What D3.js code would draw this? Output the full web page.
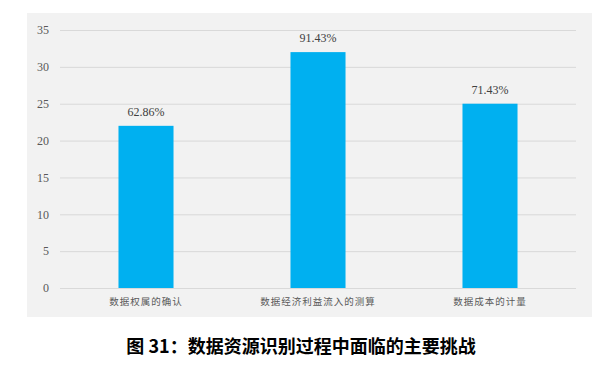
<!DOCTYPE html>
<html>
<head>
<meta charset="utf-8">
<script src="https://cdn.jsdelivr.net/npm/d3@7"></script>
<style>
  body { margin: 0; background: #fff; }
  svg { display: block; }
</style>
</head>
<body>
<svg id="chart" width="610" height="375"></svg>
<script>
// data
const categories = ["数据权属的确认", "数据经济利益流入的测算", "数据成本的计量"];
const counts = [22, 32, 25];
const shareLabels = ["62.86%", "91.43%", "71.43%"];
const yTicks = [0, 5, 10, 15, 20, 25, 30, 35];
const title = "图 31：数据资源识别过程中面临的主要挑战";

const width = 610, height = 375;
const margin = {top: 30, right: 34, bottom: 87, left: 60};

const svg = d3.select("#chart");

// gray panel behind the chart
svg.append("rect")
    .attr("x", 27)
    .attr("y", 13)
    .attr("width", 565)
    .attr("height", 304)
    .attr("fill", "#f2f2f2");

const xScale = d3.scaleBand()
    .domain(categories)
    .range([margin.left, width - margin.right])
    .paddingInner(0.68)
    .paddingOuter(0.34);

const yScale = d3.scaleLinear()
    .domain([0, 35])
    .range([height - margin.bottom, margin.top]);

// grid lines
svg.append("g")
    .selectAll("line")
    .data(yTicks)
    .join("line")
    .attr("x1", margin.left)
    .attr("x2", width - margin.right)
    .attr("y1", d => yScale(d) + 0.5)
    .attr("y2", d => yScale(d) + 0.5)
    .attr("stroke", "#d9d9d9")
    .attr("stroke-width", 1);

// y axis
const yAxis = d3.axisLeft(yScale)
    .tickValues(yTicks)
    .tickSize(0)
    .tickPadding(11);

const gY = svg.append("g")
    .attr("transform", "translate(" + margin.left + ",0)")
    .call(yAxis);
gY.select(".domain").remove();
gY.selectAll("text")
    .attr("fill", "#595959")
    .style("font-family", "'Liberation Serif', 'DejaVu Serif', serif")
    .style("font-size", "12px");

// bars
svg.append("g")
    .selectAll("rect")
    .data(counts)
    .join("rect")
    .attr("x", (d, i) => xScale(categories[i]))
    .attr("y", d => yScale(d))
    .attr("width", xScale.bandwidth())
    .attr("height", d => yScale(0) - yScale(d))
    .attr("fill", "#00b0f0");

// value labels
svg.append("g")
    .selectAll("text")
    .data(counts)
    .join("text")
    .attr("x", (d, i) => xScale(categories[i]) + xScale.bandwidth() / 2)
    .attr("y", d => yScale(d) - 10)
    .attr("text-anchor", "middle")
    .attr("fill", "#404040")
    .style("font-family", "'Liberation Serif', 'DejaVu Serif', serif")
    .style("font-size", "12px")
    .text((d, i) => shareLabels[i]);

// x axis
const xAxis = d3.axisBottom(xScale)
    .tickSize(0)
    .tickPadding(10);

const gX = svg.append("g")
    .attr("transform", "translate(0," + yScale(0) + ")")
    .call(xAxis);
gX.select(".domain").remove();
gX.selectAll("text")
    .attr("fill", "#595959")
    .style("font-family", "'Noto Sans CJK SC', sans-serif")
    .style("font-size", "9.5px")
    .style("letter-spacing", "1px");

// caption
svg.append("text")
    .attr("x", 301)
    .attr("y", 353)
    .attr("text-anchor", "middle")
    .attr("fill", "#000")
    .style("font-family", "'Noto Sans CJK SC', sans-serif")
    .style("font-weight", "bold")
    .style("font-size", "18px")
    .text(title);
</script>
</body>
</html>
